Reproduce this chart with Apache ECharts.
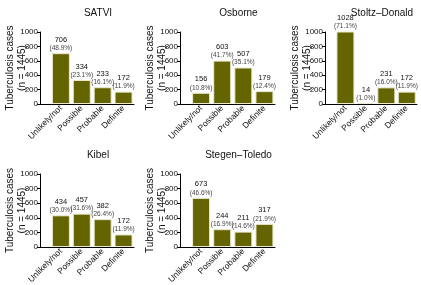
<!DOCTYPE html>
<html>
<head>
<meta charset="utf-8">
<script src="https://cdn.jsdelivr.net/npm/echarts@6/dist/echarts.min.js"></script>
<style>
  html, body { margin: 0; padding: 0; background: #fff; }
  #chart { width: 421px; height: 285px; }
</style>
</head>
<body>
<div id="chart"></div>
<script>
// categories shared by every panel
var categories = ["Unlikely/not", "Possible", "Probable", "Definite"];
var panelTitles = ["SATVI", "Osborne", "Stoltz\u2013Donald", "Kibel", "Stegen\u2013Toledo"];
var yTicks = [0, 200, 400, 600, 800, 1000];

// counts per panel
var satviValues = [706, 334, 233, 172];
var osborneValues = [156, 603, 507, 179];
var stoltzValues = [1028, 14, 231, 172];
var kibelValues = [434, 457, 382, 172];
var stegenValues = [673, 244, 211, 317];

// percentage labels per panel
var satviPct = ["48.9%", "23.1%", "16.1%", "11.9%"];
var osbornePct = ["10.8%", "41.7%", "35.1%", "12.4%"];
var stoltzPct = ["71.1%", "1.0%", "16.0%", "11.9%"];
var kibelPct = ["30.0%", "31.6%", "26.4%", "11.9%"];
var stegenPct = ["46.6%", "16.9%", "14.6%", "21.9%"];

var allValues = [satviValues, osborneValues, stoltzValues, kibelValues, stegenValues];
var allPct = [satviPct, osbornePct, stoltzPct, kibelPct, stegenPct];

var font = "'Liberation Sans', Arial, sans-serif";

// panel placement: y axis position, top of 1000 tick, plot size
var grids = [
  { left: 40, top: 32, width: 94, height: 72 },
  { left: 180, top: 32, width: 95, height: 72 },
  { left: 325, top: 32, width: 92, height: 72 },
  { left: 40, top: 174, width: 94, height: 73 },
  { left: 180, top: 174, width: 95, height: 73 }
];

var option = {
  backgroundColor: "#fff",
  animation: false,
  title: [],
  grid: [],
  xAxis: [],
  yAxis: [],
  series: []
};

grids.forEach(function (g, i) {
  option.grid.push({
    left: g.left, top: g.top, width: g.width, height: g.height,
    containLabel: false, outerBoundsMode: "none"
  });
  option.title.push({
    text: panelTitles[i],
    left: g.left + g.width / 2 + 6,
    top: g.top - 29,
    textAlign: "center",
    textStyle: { fontFamily: font, fontSize: 10, fontWeight: "normal", color: "#111" }
  });
  option.xAxis.push({
    type: "value",
    gridIndex: i,
    min: -1,
    max: 3.5,
    interval: 1,
    splitLine: { show: false },
    axisTick: { show: false },
    axisLine: { show: true, onZero: false, lineStyle: { color: "#000", width: 1 } },
    axisLabel: {
      rotate: 45,
      fontFamily: font,
      fontSize: 8.5,
      color: "#111",
      margin: 3,
      showMaxLabel: false,
      formatter: function (v) {
        return categories[v] !== undefined ? categories[v] : "";
      }
    }
  });
  option.yAxis.push({
    type: "value",
    gridIndex: i,
    min: 0,
    max: 1000,
    interval: 200,
    name: "Tuberculosis cases\n(n = 1445)",
    nameLocation: "middle",
    nameGap: 12,
    nameMoveOverlap: false,
    nameTextStyle: { fontFamily: font, fontSize: 10, color: "#111", lineHeight: 12 },
    splitLine: { show: false },
    axisLine: { show: true, onZero: false, lineStyle: { color: "#000", width: 1 } },
    axisTick: { show: true, length: 3, lineStyle: { color: "#000" } },
    axisLabel: {
      fontFamily: font,
      fontSize: 8,
      color: "#111",
      margin: 2,
      formatter: function (v) { return yTicks.indexOf(v) >= 0 ? String(v) : ""; }
    }
  });
  var vals = allValues[i];
  var pcts = allPct[i];
  option.series.push({
    type: "bar",
    xAxisIndex: i,
    yAxisIndex: i,
    barWidth: 18,
    data: vals.map(function (v, k) { return [k, v]; }),
    itemStyle: { color: "#646400", borderColor: "#ecebd2", borderWidth: 1 },
    label: {
      show: true,
      position: "top",
      distance: 1,
      fontFamily: font,
      formatter: function (p) {
        return "{n|" + vals[p.dataIndex] + "}\n{p|(" + pcts[p.dataIndex] + ")}";
      },
      rich: {
        n: { fontFamily: font, fontSize: 7.5, color: "#111", lineHeight: 9 },
        p: { fontFamily: font, fontSize: 6.5, color: "#444", lineHeight: 8 }
      }
    }
  });
});

var myChart = echarts.init(document.getElementById("chart"), null, { renderer: "canvas" });
myChart.setOption(option);
</script>
</body>
</html>
